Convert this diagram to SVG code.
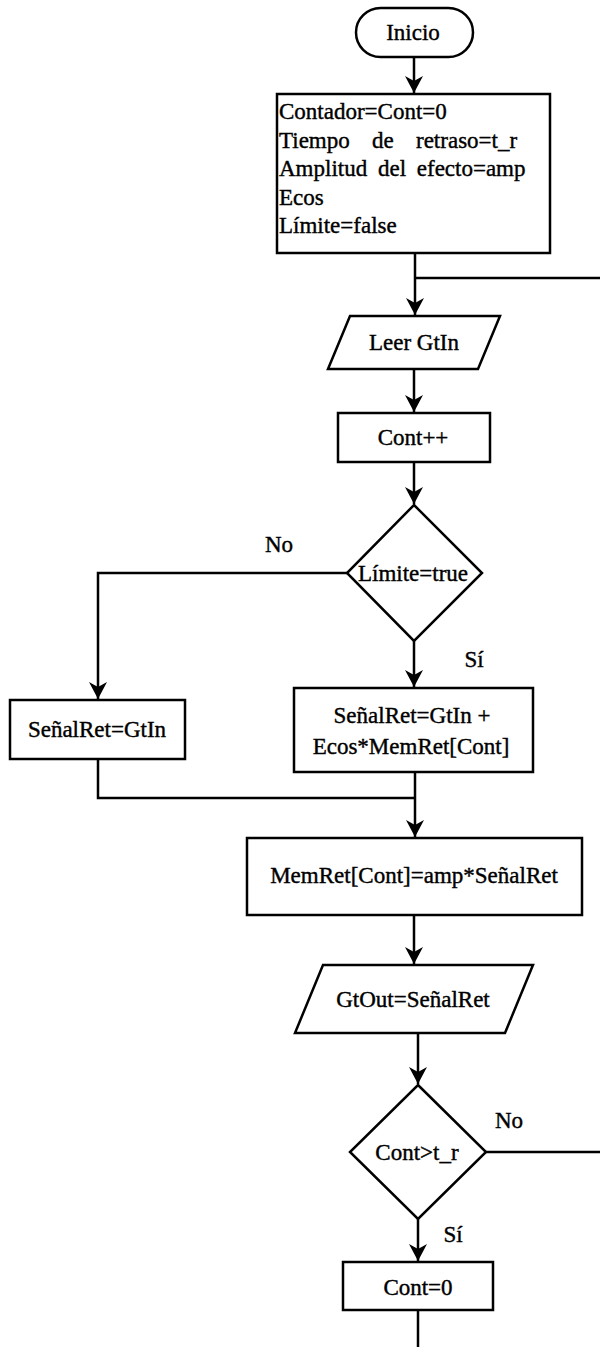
<svg xmlns="http://www.w3.org/2000/svg" width="600" height="1347" viewBox="0 0 600 1347">
<style>
.s{fill:#fff;stroke:#000;stroke-width:2.5}
.c{fill:none;stroke:#000;stroke-width:2.5}
text{font-family:"Liberation Serif","Times New Roman",serif;font-size:23px;fill:#000;stroke:#000;stroke-width:0.4}
.m{text-anchor:middle}
</style>
<defs>
<marker id="arr" markerUnits="userSpaceOnUse" viewBox="0 0 17 18" markerWidth="17" markerHeight="18" refX="17" refY="9" orient="auto">
<path d="M0,0 L17,9 L0,18 L5,9 z" fill="#000"/>
</marker>
</defs>
<rect width="600" height="1347" fill="#fff"/>
<g id="connectors">
<line class="c" x1="414" y1="57" x2="414" y2="93" marker-end="url(#arr)"/>
<line class="c" x1="415" y1="253" x2="415" y2="315" marker-end="url(#arr)"/>
<line class="c" x1="415" y1="278" x2="600" y2="278"/>
<line class="c" x1="414" y1="369" x2="414" y2="412" marker-end="url(#arr)"/>
<line class="c" x1="414" y1="462" x2="414" y2="504" marker-end="url(#arr)"/>
<polyline class="c" points="347,573 98,573 98,699" marker-end="url(#arr)"/>
<line class="c" x1="414" y1="641" x2="414" y2="687" marker-end="url(#arr)"/>
<polyline class="c" points="98,759 98,798 415,798"/>
<line class="c" x1="415" y1="772" x2="415" y2="837" marker-end="url(#arr)"/>
<line class="c" x1="414" y1="915" x2="414" y2="964" marker-end="url(#arr)"/>
<line class="c" x1="418" y1="1033" x2="418" y2="1084" marker-end="url(#arr)"/>
<line class="c" x1="486" y1="1152" x2="600" y2="1152"/>
<line class="c" x1="418" y1="1219" x2="418" y2="1261" marker-end="url(#arr)"/>
<line class="c" x1="418" y1="1310" x2="418" y2="1347"/>
<text class="m" x="279" y="552">No</text>
<text class="m" x="474" y="667">Sí</text>
<text class="m" x="509" y="1128">No</text>
<text class="m" x="453" y="1242">Sí</text>
</g>
<g id="inicio">
<rect class="s" x="356" y="8" width="117" height="49" rx="24.5"/>
<text class="m" x="413" y="40">Inicio</text>
</g>
<g id="init">
<rect class="s" x="277" y="94" width="273" height="159"/>
<text x="279" y="119">Contador=Cont=0</text>
<text y="148"><tspan x="279">Tiempo</tspan><tspan x="372">de</tspan><tspan x="416">retraso=t_r</tspan></text>
<text x="279" y="176" word-spacing="5">Amplitud del efecto=amp</text>
<text x="279" y="205">Ecos</text>
<text x="279" y="233">Límite=false</text>
</g>
<g id="leer">
<polygon class="s" points="350,316 500,316 478,369 328,369"/>
<text class="m" x="414" y="350">Leer GtIn</text>
</g>
<g id="contpp">
<rect class="s" x="338" y="413" width="152" height="49"/>
<text class="m" x="413" y="445">Cont++</text>
</g>
<g id="limite">
<polygon class="s" points="414,505 482,573 414,641 347,573"/>
<text class="m" x="413" y="581">Límite=true</text>
</g>
<g id="senal1">
<rect class="s" x="10" y="700" width="175" height="59"/>
<text class="m" x="97" y="737">SeñalRet=GtIn</text>
</g>
<g id="senal2">
<rect class="s" x="294" y="688" width="239" height="84"/>
<text class="m" x="412" y="723">SeñalRet=GtIn +</text>
<text class="m" x="411" y="754">Ecos*MemRet[Cont]</text>
</g>
<g id="memret">
<rect class="s" x="247" y="838" width="335" height="77"/>
<text class="m" x="414" y="883">MemRet[Cont]=amp*SeñalRet</text>
</g>
<g id="gtout">
<polygon class="s" points="323,965 533,965 505,1033 295,1033"/>
<text class="m" x="413" y="1007">GtOut=SeñalRet</text>
</g>
<g id="contgt">
<polygon class="s" points="418,1085 486,1152 418,1219 350,1152"/>
<text class="m" x="417" y="1160">Cont&gt;t_r</text>
</g>
<g id="cont0">
<rect class="s" x="343" y="1262" width="150" height="48"/>
<text class="m" x="418" y="1295">Cont=0</text>
</g>
</svg>
